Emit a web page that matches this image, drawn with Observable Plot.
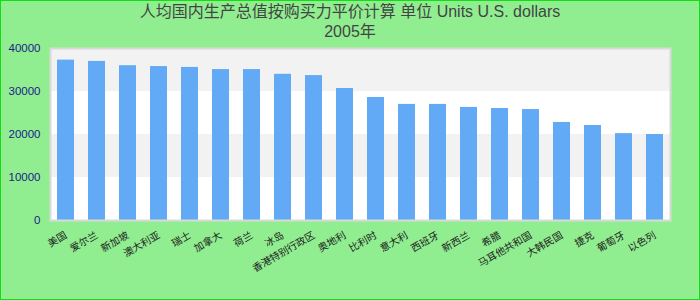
<!DOCTYPE html>
<html>
<head>
<meta charset="utf-8">
<script src="https://cdn.jsdelivr.net/npm/d3@7"></script>
<script src="https://cdn.jsdelivr.net/npm/@observablehq/plot@0.6"></script>
<style>
  html, body { margin: 0; padding: 0; }
  #chart {
    position: relative;
    width: 700px; height: 300px;
    background: #90ee90;
    outline: 1px solid #10e010; outline-offset: -1px;
    font-family: "Liberation Sans", "Noto Sans CJK SC", sans-serif;
    overflow: hidden;
  }
  #title {
    height: 42px;
    padding-top: 2px;
    box-sizing: border-box;
    text-align: center;
    font-size: 16px;
    line-height: 20px;
    color: #444;
  }
  svg { display: block; }
</style>
</head>
<body>
<div id="chart">
  <div id="title"></div>
</div>
<script>
const titleLines = ["人均国内生产总值按购买力平价计算 单位 Units U.S. dollars", "2005年"];
const countries = ["美国", "爱尔兰", "新加坡", "澳大利亚", "瑞士", "加拿大", "荷兰", "冰岛", "香港特别行政区", "奥地利",
                   "比利时", "意大利", "西班牙", "新西兰", "希腊", "马耳他共和国", "大韩民国", "捷克", "葡萄牙", "以色列"];
const values = [37300, 37000, 36000, 35800, 35600, 35100, 35100, 34000, 33700, 30700,
                28600, 27000, 27000, 26300, 26050, 25800, 22800, 22100, 20200, 20000];
const yTicks = [0, 10000, 20000, 30000, 40000];

const titleEl = document.getElementById("title");
titleLines.forEach((t, i) => {
  if (i) titleEl.appendChild(document.createElement("br"));
  titleEl.appendChild(document.createTextNode(t));
});

const data = countries.map((c, i) => ({country: c, value: values[i]}));
const bands = yTicks.slice(0, -1).map((t, i) => ({y1: t, y2: yTicks[i + 1], i}));

const chart = Plot.plot({
  width: 700,
  height: 258,
  marginTop: 6,
  marginBottom: 80,
  marginLeft: 50,
  marginRight: 30,
  style: {background: "transparent", fontFamily: "'Liberation Sans', 'Noto Sans CJK SC', sans-serif"},
  x: {type: "band", domain: countries, paddingInner: 0.45, paddingOuter: 0.225},
  y: {domain: [0, 40000]},
  marks: [
    Plot.rect(bands, {y1: "y1", y2: "y2", fill: d => d.i % 2 ? "#f2f2f2" : "#ffffff"}),
    Plot.barY(data, {x: "country", y: "value", fill: "#62aaf5"}),
    Plot.frame({stroke: "#d9d9d9", strokeWidth: 2}),
    Plot.axisY({ticks: yTicks, tickSize: 0, tickPadding: 10, tickFormat: d => String(d),
                fill: "#1c1c8a", fontSize: 11.5, label: null}),
    Plot.axisX({tickSize: 0, tickPadding: 14, tickRotate: -30, fontSize: 10,
                fill: "#222", label: null})
  ]
});
document.getElementById("chart").appendChild(chart);
</script>
</body>
</html>
